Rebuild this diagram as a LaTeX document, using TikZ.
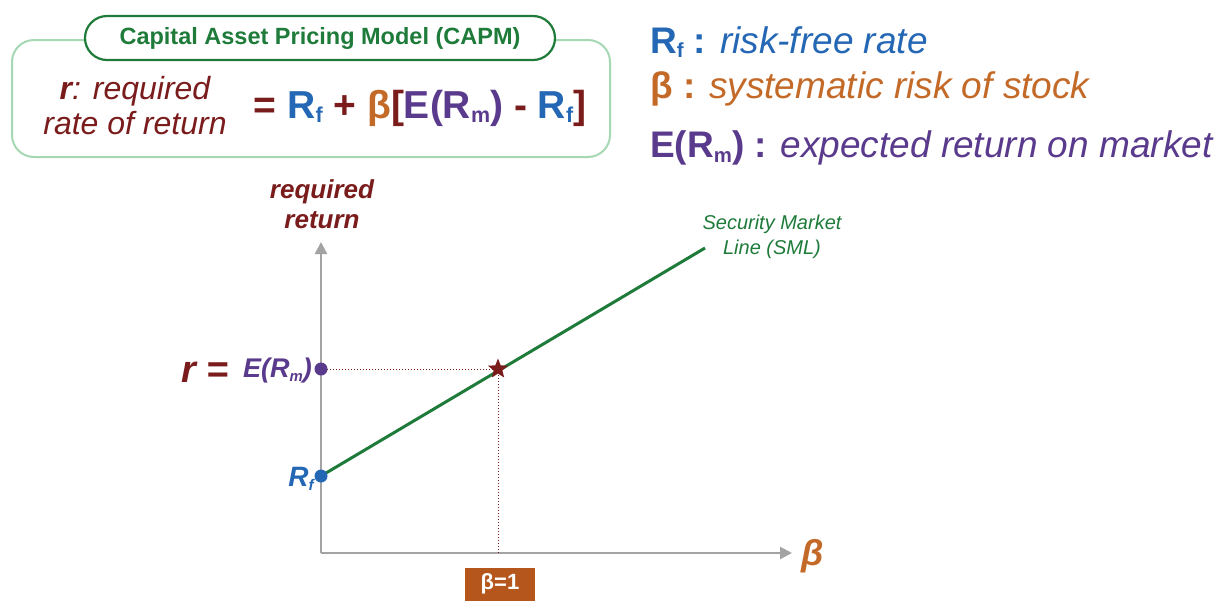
\documentclass[tikz,border=0pt]{standalone}
\usepackage{fontspec}
\setmainfont{Liberation Sans}
\usetikzlibrary{arrows.meta,shapes.geometric,shapes.misc}
\definecolor{rfblue}{HTML}{2467B5}
\definecolor{betaorange}{HTML}{C46A28}
\definecolor{mktpurple}{HTML}{5A3A8C}
\definecolor{reqred}{HTML}{7A1C1C}
\definecolor{smlgreen}{HTML}{1E7B3A}
\definecolor{boxgreen}{HTML}{A6D8B4}
\definecolor{axisgray}{HTML}{A3A3A3}
\definecolor{boxorange}{HTML}{B5561D}
\newcommand{\sub}[1]{\raisebox{-0.12em}{\fontsize{0.55em}{0.55em}\selectfont #1}}
\newcommand{\fsize}[2]{\fontsize{#1}{#2}\selectfont}
\tikzset{
  pill/.style={rounded rectangle, draw=smlgreen, line width=2.2pt, fill=white,
    minimum width=470pt, minimum height=44pt, inner sep=0pt,
    font=\fsize{23.5pt}{28pt}\bfseries, text=smlgreen},
  legend/.style={anchor=west, font=\fsize{37pt}{44pt}, inner sep=0pt},
  axis/.style={draw=axisgray, line width=2.4pt, -{Triangle[length=12pt,width=12pt]}},
  guide/.style={draw=reqred, line width=1pt, dotted},
  dot/.style={circle, inner sep=0pt, minimum size=13pt},
  marker/.style={star, star points=5, star point ratio=2.3, fill=reqred, inner sep=0pt, minimum size=21pt},
}
\begin{document}
\begin{tikzpicture}[x=1pt,y=-1pt]
\useasboundingbox[fill=white] (0,0) rectangle (1227,603);

% CAPM formula panel
\draw[boxgreen, line width=2pt, rounded corners=22pt] (12,40) rectangle (610,157);
\node[pill] (title) at (320,38) {Capital Asset Pricing Model (CAPM)};
\node[align=center, text=reqred, font=\fsize{32pt}{35pt}\itshape, inner sep=0pt] (rdef) at (135,106)
  {\textbf{r}: required\\rate of return};
\node[font=\fsize{39pt}{46pt}\bfseries, inner sep=0pt] (formula) at (420,108)
  {\textcolor{reqred}{=} \textcolor{rfblue}{R\sub{f}} \textcolor{reqred}{+} \textcolor{betaorange}{β}\textcolor{reqred}{[}\textcolor{mktpurple}{E(R\sub{m})} \textcolor{reqred}{-} \textcolor{rfblue}{R\sub{f}}\textcolor{reqred}{]}};

% symbol legend
\node[legend, text=rfblue] (lrf) at (650,42) {\textbf{R\sub{f} :} \textit{risk-free rate}};
\node[legend, text=betaorange] (lbeta) at (650,89) {\textbf{β :} \textit{systematic risk of stock}};
\node[legend, text=mktpurple] (lmkt) at (650,148) {\textbf{E(R\sub{m}) :} \textit{expected return on market}};

% axes
\coordinate (origin) at (321,553);
\coordinate (ytip) at (321,242);
\coordinate (xtip) at (792,553);
\draw[axis] (origin) -- (ytip);
\draw[axis] (origin) -- (xtip);
\node[align=center, text=reqred, font=\fsize{26pt}{30pt}\bfseries\itshape, inner sep=0pt] (ylab) at (322,204)
  {required\\return};
\node[anchor=west, text=betaorange, font=\fsize{36pt}{40pt}\bfseries\itshape, inner sep=0pt] (xlab) at (801,556) {β};

% points on the line
\coordinate (rf) at (321,476);
\coordinate (erm) at (321,369);
\coordinate (mkt) at (498,369);
\coordinate (b1) at (498,553);
\coordinate (smlend) at (705,248);

% guide lines
\draw[guide] (erm) -- (mkt);
\draw[guide] (mkt) -- (b1);

% security market line
\draw[smlgreen, line width=3pt] (rf) -- (smlend);
\node[marker] (mktstar) at (mkt) {};
\node[align=center, text=smlgreen, font=\fsize{20pt}{25pt}\itshape, inner sep=0pt] (smllab) at (772,237)
  {Security Market\\Line (SML)};

% axis markers
\node[dot, fill=rfblue] (rfdot) at (rf) {};
\node[dot, fill=mktpurple] (ermdot) at (erm) {};
\node[anchor=east, text=rfblue, font=\fsize{28pt}{32pt}\bfseries\itshape, inner sep=0pt] (rflab) at (314,479) {R\sub{f}};
\node[anchor=east, text=mktpurple, font=\fsize{27pt}{32pt}\bfseries\itshape, inner sep=0pt] (ermlab) at (312,371) {E(R\sub{m})};
\node[anchor=east, text=reqred, font=\fsize{38pt}{42pt}\bfseries\itshape, inner sep=0pt] (rlab) at (229,372) {r =};

% beta = 1 tag
\node[fill=boxorange, text=white, font=\fsize{22pt}{26pt}\bfseries, minimum width=70pt, minimum height=33pt, inner sep=0pt] (bone) at (500,584) {β=1};
\end{tikzpicture}
\end{document}
